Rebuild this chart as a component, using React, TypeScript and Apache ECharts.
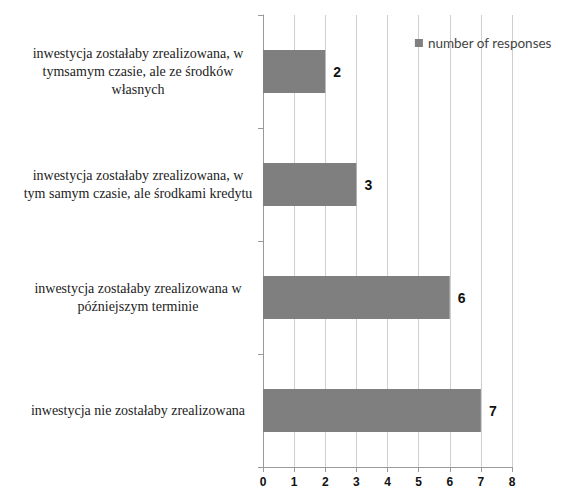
import React, { useEffect, useRef } from "react";
import * as echarts from "echarts";

const categories = [
  "inwestycja zostałaby zrealizowana, w\ntymsamym czasie, ale ze środków\nwłasnych",
  "inwestycja zostałaby zrealizowana, w\ntym samym czasie, ale środkami kredytu",
  "inwestycja zostałaby zrealizowana w\npóźniejszym terminie",
  "inwestycja nie zostałaby zrealizowana",
];
const responses = [2, 3, 6, 7];
const seriesName = "number of responses";

export default function App() {
  const ref = useRef<HTMLDivElement>(null);
  useEffect(() => {
    if (!ref.current) return;
    const chart = echarts.init(ref.current, undefined, { renderer: "svg" });
    chart.setOption({
      animation: false,
      backgroundColor: "#ffffff",
      legend: {
        data: [seriesName],
        right: 4,
        top: 31,
        itemWidth: 8,
        itemHeight: 8,
        itemGap: 5,
        icon: "rect",
        textStyle: { fontFamily: "Lato", fontSize: 13.5, color: "#444" },
      },
      grid: { left: 263, right: 49, top: 15, bottom: 23, containLabel: false },
      xAxis: {
        type: "value",
        min: 0,
        max: 8,
        interval: 1,
        axisLine: { show: true, lineStyle: { color: "#9a9a9a" } },
        axisTick: { show: true, length: 5, lineStyle: { color: "#9a9a9a" } },
        axisLabel: {
          fontFamily: "Liberation Sans",
          fontWeight: "bold",
          fontSize: 12,
          color: "#111",
          margin: 9,
        },
        splitLine: { show: true, lineStyle: { color: "#cfcfcf" } },
      },
      yAxis: {
        type: "category",
        data: categories,
        inverse: true,
        axisLine: { show: true, lineStyle: { color: "#9a9a9a" } },
        axisTick: { show: true, length: 5, lineStyle: { color: "#9a9a9a" } },
        axisLabel: {
          fontFamily: "'Liberation Serif', 'Times New Roman', 'DejaVu Serif', serif",
          fontSize: 14,
          color: "#222",
          align: "center",
          margin: 125,
          lineHeight: 18,
        },
      },
      series: [
        {
          name: seriesName,
          type: "bar",
          data: responses,
          barWidth: 43,
          itemStyle: { color: "#7f7f7f" },
          label: {
            show: true,
            position: "right",
            distance: 8,
            fontFamily: "Liberation Sans",
            fontWeight: "bold",
            fontSize: 14,
            color: "#111",
          },
        },
      ],
    });
    return () => chart.dispose();
  }, []);
  return (
    <div
      ref={ref}
      style={{ position: "fixed", left: 0, top: 0, width: 561, height: 490 }}
    />
  );
}
